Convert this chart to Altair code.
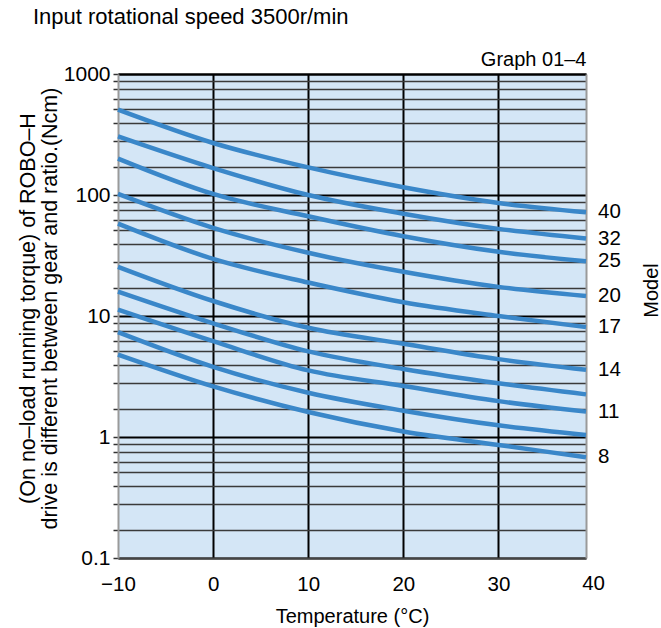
import altair as alt
import pandas as pd

# ---- data ----
temps = [-10, 0, 10, 20, 30, 39.2]          # x positions of readings (curves end at right border)
x_tick_labels = [-10, 0, 10, 20, 30, 40]

c1 = [507, 269, 169, 116, 86, 72]
c2 = [305, 167, 100, 70, 52.5, 43.7]
c3 = [200, 102, 66.7, 45.6, 33.9, 28.3]
c4 = [102, 53.5, 33.3, 23.2, 17.4, 14.6]
c5 = [58, 29.6, 18.9, 13.0, 10.0, 8.1]
c6 = [25.5, 13.3, 8.0, 5.9, 4.4, 3.6]
c7 = [15.9, 8.7, 5.1, 3.65, 2.78, 2.25]
c8 = [11.3, 6.2, 3.55, 2.64, 1.98, 1.62]
c9 = [7.35, 3.8, 2.32, 1.65, 1.25, 1.04]
c10 = [4.8, 2.62, 1.61, 1.11, 0.86, 0.68]
curves = [c1, c2, c3, c4, c5, c6, c7, c8, c9, c10]
model_labels = ["40", "32", "25", "20", "17", "14", "", "11", "", "8"]

decades = [0.1, 1, 10, 100, 1000]
minor_factors = [8.8, 7.5, 6.2, 5.1, 3.9, 2.8, 1.7]

# ---- tables ----
rows = []
for i, vals in enumerate(curves):
    for t, v in zip(temps, vals):
        rows.append({"curve": i, "temp": t, "torque": v})
df = pd.DataFrame(rows)

lab_df = pd.DataFrame([
    {"temp": temps[-1], "torque": vals[-1], "model": lab}
    for vals, lab in zip(curves, model_labels) if lab
])

x_end = temps[-1]
axis_ticks = [t for t in x_tick_labels if t <= x_end]
extra_ticks = pd.DataFrame({"temp": [t for t in x_tick_labels if t > x_end]})
extra_ticks["txt"] = extra_ticks["temp"].map(lambda v: f"{v:g}")

y_values = decades + [round(d * f, 6) for d in decades[:-1] for f in minor_factors]

W, H = 468, 484
FONT = "Liberation Sans"
LABEL_PAD = 16
dec_test = "abs(log(datum.value)/LN10 - round(log(datum.value)/LN10)) < 0.01"

xs = alt.Scale(domain=[-10, x_end], nice=False, zero=False)
ys = alt.Scale(type="log", domain=[0.1, 1000], nice=False)

lines = alt.Chart(df).mark_line(
    strokeWidth=4.5, color="#3a87c9", interpolate="monotone"
).encode(
    x=alt.X("temp:Q", scale=xs, axis=alt.Axis(
        values=axis_ticks, format="d", title="Temperature (°C)",
        grid=True, gridColor="black", gridWidth=2,
        gridOpacity={"condition": {"test": "datum.value == -10", "value": 0}, "value": 1},
        ticks=False, tickSize=0, labelPadding=LABEL_PAD, labelFlush=False,
        labelFontSize=20.5, titleFontSize=20, titleFontWeight="normal",
        titlePadding=12, domainColor="#444444", domainWidth=2,
        labelColor="black", titleColor="black")),
    y=alt.Y("torque:Q", scale=ys, axis=alt.Axis(
        values=y_values, labelExpr=f"({dec_test}) ? format(datum.value, '~g') : ''",
        grid=True,
        gridColor={"condition": {"test": dec_test, "value": "#000000"}, "value": "#3a3a3a"},
        gridWidth={"condition": {"test": dec_test, "value": 2.2}, "value": 1.6},
        tickSize=5, tickColor="#333333", tickWidth=1.5,
        domainColor="#9a9a9a", domainWidth=2,
        labelFontSize=21, labelPadding=3, labelFlush=False, labelOverlap=False,
        labelColor="black",
        title=["(On no–load running torque) of ROBO–H",
               "drive is different between gear and ratio.(Ncm)"],
        titleFontSize=21.5, titleFontWeight="normal", titleColor="black",
        titlePadding=2, titleY=234, titleLineHeight=22)),
    detail="curve:N",
)

labels = alt.Chart(lab_df).mark_text(
    align="left", baseline="middle", dx=12, fontSize=20.5, color="black"
).encode(
    x=alt.X("temp:Q", scale=xs, axis=alt.Axis(
        orient="top", labels=False, ticks=False, tickSize=0, grid=False,
        domainColor="black", domainWidth=2, title="Graph 01–4",
        titleAnchor="end", titleAlign="right", titleFontSize=20,
        titleFontWeight="normal", titlePadding=5, titleColor="black")),
    y=alt.Y("torque:Q", scale=ys, axis=alt.Axis(
        orient="right", labels=False, ticks=False, tickSize=0, grid=False,
        domainColor="#9a9a9a", domainWidth=2, title="Model", titleAngle=270,
        titleFontSize=20, titleFontWeight="normal", titlePadding=75,
        titleY=216, titleColor="black")),
    text="model:N",
)

forty = alt.Chart(extra_ticks).mark_text(
    baseline="top", align="center", fontSize=20.5, color="black"
).encode(
    x=alt.X("temp:Q", scale=xs, axis=None),
    y=alt.value(H + LABEL_PAD),
    text="txt:N",
)

chart = alt.layer(lines, labels, forty).resolve_axis(
    x="independent", y="independent"
).properties(
    width=W, height=H,
    autosize="none",
    padding={"left": 118, "top": 74, "right": 661 - 118 - W, "bottom": 628 - 74 - H},
    title=alt.TitleParams("Input rotational speed 3500r/min", anchor="start",
                          frame="group", dx=-85, fontSize=22, fontWeight="normal",
                          color="black", offset=20),
).configure(font=FONT).configure_view(
    fill="#d4e6f6", stroke="transparent"
)

chart.save("out.html", embed_options={"renderer": "svg", "actions": False})
